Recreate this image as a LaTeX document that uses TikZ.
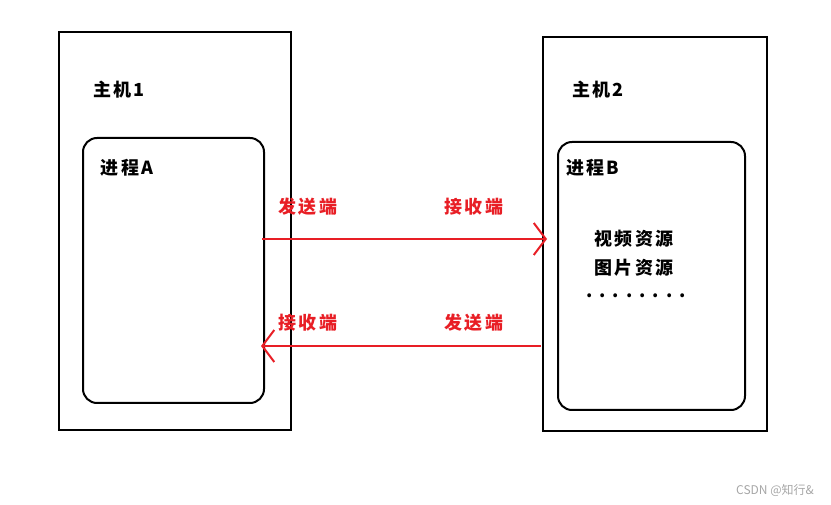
\documentclass[tikz,border=0pt]{standalone}
\usepackage{fontspec}
\newfontfamily\cjk[LetterSpace=12]{Noto Sans CJK SC}
\newfontfamily\cjkplain{Noto Sans CJK SC}
\usetikzlibrary{arrows.meta}
\definecolor{linkred}{RGB}{232,30,37}
\tikzset{
  hostbox/.style={draw,line width=2pt},
  procbox/.style={draw,line width=2pt,rounded corners=14pt},
  lbl/.style={font=\cjk\bfseries\fontsize{18}{20}\selectfont},
  redlbl/.style={lbl,text=linkred},
  link/.style={draw=linkred,line width=2pt,-{Straight Barb[length=12pt,width=32pt,line width=2pt]}}
}
\begin{document}
\begin{tikzpicture}[x=1pt,y=-1pt]
    \useasboundingbox (0,0) rectangle (831,505);

    \draw[hostbox] (59,32) rectangle (291,430);
    \draw[procbox] (83,138) rectangle (264,403);
    \draw[hostbox] (543,37) rectangle (767,431);
    \draw[procbox] (558,142) rectangle (745,410);

    \node[lbl] (hostA) at (119,90) {主机1};
    \node[lbl] (procA) at (127,168) {进程A};
    \node[lbl] (hostB) at (598,90) {主机2};
    \node[lbl] (procB) at (593,168) {进程B};

    \node[lbl] (video) at (634,239) {视频资源};
    \node[lbl] (image) at (634,268) {图片资源};
    \node[lbl] (dots) at (636,296) {.\hspace{7pt}.\hspace{7pt}.\hspace{7pt}.\hspace{7pt}.\hspace{7pt}.\hspace{7pt}.\hspace{7pt}.};

    \node[redlbl] (sendA) at (308,207) {发送端};
    \node[redlbl] (recvB) at (474,207) {接收端};
    \node[redlbl] (recvA) at (308,323) {接收端};
    \node[redlbl] (sendB) at (474,323) {发送端};

    \coordinate (a1) at (262,239);
    \coordinate (b1) at (547,239);
    \coordinate (b2) at (541,346);
    \coordinate (a2) at (261,346);
    \draw[link] (a1) -- (b1);
    \draw[link] (b2) -- (a2);

    \node[text=gray!70,font=\cjkplain\fontsize{12}{13}\selectfont] (mark) at (775,490) {CSDN @知行\&};
\end{tikzpicture}
\end{document}
